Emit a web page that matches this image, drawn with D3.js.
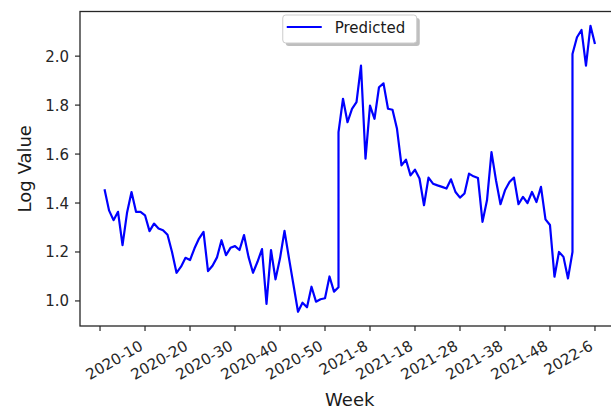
<!DOCTYPE html>
<html>
<head>
<meta charset="utf-8">
<script src="https://cdn.jsdelivr.net/npm/d3@7"></script>
<style>
  body { margin: 0; background: #fff; }
  svg { display: block; font-family: "DejaVu Sans", sans-serif; }
</style>
</head>
<body>
<div id="container"></div>
<script>
// week labels for each point; the first week of a new year appears twice
// (end of the old segment and start of the new one)
var weeks = [].concat(
    d3.range(1, 53).map(function(w) { return '2020-' + w; }),
    ['2021-1'],
    d3.range(1, 53).map(function(w) { return '2021-' + w; }),
    ['2022-1'],
    d3.range(1, 7).map(function(w) { return '2022-' + w; })
);

var predicted = [
    1.456, 1.37, 1.33, 1.364, 1.228, 1.36, 1.445, 1.364, 1.364, 1.35,
    1.285, 1.316, 1.296, 1.289, 1.27, 1.20, 1.115, 1.14, 1.176, 1.167,
    1.215, 1.255, 1.282, 1.122, 1.144, 1.178, 1.248, 1.187, 1.217, 1.224,
    1.208, 1.269, 1.18, 1.115, 1.16, 1.212, 0.988, 1.208, 1.088, 1.174,
    1.286, 1.174, 1.065, 0.956, 0.993, 0.974, 1.058, 0.997, 1.007, 1.011,
    1.10, 1.038,
    1.056,
    1.69, 1.826, 1.73, 1.785, 1.812, 1.961, 1.581, 1.798, 1.744, 1.873,
    1.889, 1.785, 1.781, 1.703, 1.554, 1.577, 1.513, 1.536, 1.50, 1.391,
    1.504, 1.479, 1.472, 1.466, 1.459, 1.497, 1.445, 1.422, 1.439, 1.52,
    1.509, 1.502, 1.323, 1.411, 1.608, 1.493, 1.395, 1.452, 1.486, 1.504,
    1.395, 1.425, 1.40, 1.445, 1.404, 1.466, 1.333, 1.31, 1.099, 1.20,
    1.18, 1.092,
    1.20,
    2.009, 2.077, 2.107, 1.961, 2.124, 2.05
];

var xTickLabels = ['', '2020-10', '2020-20', '2020-30', '2020-40', '2020-50',
    '2021-8', '2021-18', '2021-28', '2021-38', '2021-48', '2022-6'];
var yTicks = [1.0, 1.2, 1.4, 1.6, 1.8, 2.0];

// week label -> running week number (52 weeks per year)
function weekNum(s) {
    var p = s.split('-');
    return (+p[0] - 2020) * 52 + (+p[1]);
}

var data = weeks.map(function(w, i) {
    return { t: weekNum(w), value: predicted[i] };
});

var width = 611,
    height = 410,
    margin = { left: 80, right: -8.5, top: 11.5, bottom: 84 };

var svg = d3.select('#container')
    .append('svg')
    .attr('width', width)
    .attr('height', height);

var tExt = d3.extent(data, function(d) { return d.t; });
var tPad = (tExt[1] - tExt[0]) * 0.05;
var vExt = d3.extent(data, function(d) { return d.value; });
var vPad = (vExt[1] - vExt[0]) * 0.05;

var x = d3.scaleLinear()
    .domain([tExt[0] - tPad, tExt[1] + tPad])
    .range([margin.left, width - margin.right]);
var y = d3.scaleLinear()
    .domain([vExt[0] - vPad, vExt[1] + vPad])
    .range([height - margin.bottom, margin.top]);

var x0 = margin.left, x1 = width - margin.right,
    y0 = height - margin.bottom, y1 = margin.top;

// line
var line = d3.line()
    .x(function(d) { return x(d.t); })
    .y(function(d) { return y(d.value); });

svg.append('path')
    .datum(data)
    .attr('d', line)
    .attr('fill', 'none')
    .attr('stroke', '#0000ff')
    .attr('stroke-width', 2.2)
    .attr('stroke-linejoin', 'round');

// frame
svg.append('rect')
    .attr('x', x0)
    .attr('y', y1)
    .attr('width', x1 - x0)
    .attr('height', y0 - y1)
    .attr('fill', 'none')
    .attr('stroke', '#262626')
    .attr('stroke-width', 1.3);

// x axis
var xTicks = d3.range(0, 111, 10);
var xg = svg.append('g');
xg.selectAll('line')
    .data(xTicks)
    .enter()
    .append('line')
    .attr('x1', function(d) { return x(d); })
    .attr('x2', function(d) { return x(d); })
    .attr('y1', y0)
    .attr('y2', y0 + 5)
    .attr('stroke', '#262626')
    .attr('stroke-width', 1.2);
xg.selectAll('text')
    .data(xTicks)
    .enter()
    .append('text')
    .text(function(d, i) { return xTickLabels[i]; })
    .attr('transform', function(d) {
        return 'translate(' + (x(d) - 1) + ',' + (y0 + 23) + ') rotate(-30)';
    })
    .attr('text-anchor', 'end')
    .attr('font-size', 15)
    .attr('fill', '#262626');

// y axis
var yg = svg.append('g');
yg.selectAll('line')
    .data(yTicks)
    .enter()
    .append('line')
    .attr('x1', x0 - 5)
    .attr('x2', x0)
    .attr('y1', function(d) { return y(d); })
    .attr('y2', function(d) { return y(d); })
    .attr('stroke', '#262626')
    .attr('stroke-width', 1.2);
yg.selectAll('text')
    .data(yTicks)
    .enter()
    .append('text')
    .text(function(d) { return d3.format('.1f')(d); })
    .attr('x', x0 - 11)
    .attr('y', function(d) { return y(d) + 5.5; })
    .attr('text-anchor', 'end')
    .attr('font-size', 15)
    .attr('fill', '#262626');

// axis titles
svg.append('text')
    .text('Week')
    .attr('x', (x0 + x1) / 2)
    .attr('y', 406)
    .attr('text-anchor', 'middle')
    .attr('font-size', 18)
    .attr('fill', '#1a1a1a');
svg.append('text')
    .text('Log Value')
    .attr('transform', 'translate(31,' + ((y0 + y1) / 2) + ') rotate(-90)')
    .attr('text-anchor', 'middle')
    .attr('font-size', 18)
    .attr('fill', '#1a1a1a');

// legend
var lg = svg.append('g').attr('transform', 'translate(' + ((x0 + x1) / 2 - 67) + ',15)');
lg.append('rect')
    .attr('x', 3).attr('y', 3)
    .attr('width', 134).attr('height', 28)
    .attr('rx', 3)
    .attr('fill', '#888')
    .attr('opacity', 0.55);
lg.append('rect')
    .attr('width', 134).attr('height', 28)
    .attr('rx', 3)
    .attr('fill', '#fff')
    .attr('stroke', '#cccccc')
    .attr('stroke-width', 1);
lg.append('line')
    .attr('x1', 4).attr('x2', 39)
    .attr('y1', 12).attr('y2', 12)
    .attr('stroke', '#0000ff')
    .attr('stroke-width', 2.2);
lg.append('text')
    .text('Predicted')
    .attr('x', 52)
    .attr('y', 18)
    .attr('font-size', 15)
    .attr('fill', '#1a1a1a');
</script>
</body>
</html>
